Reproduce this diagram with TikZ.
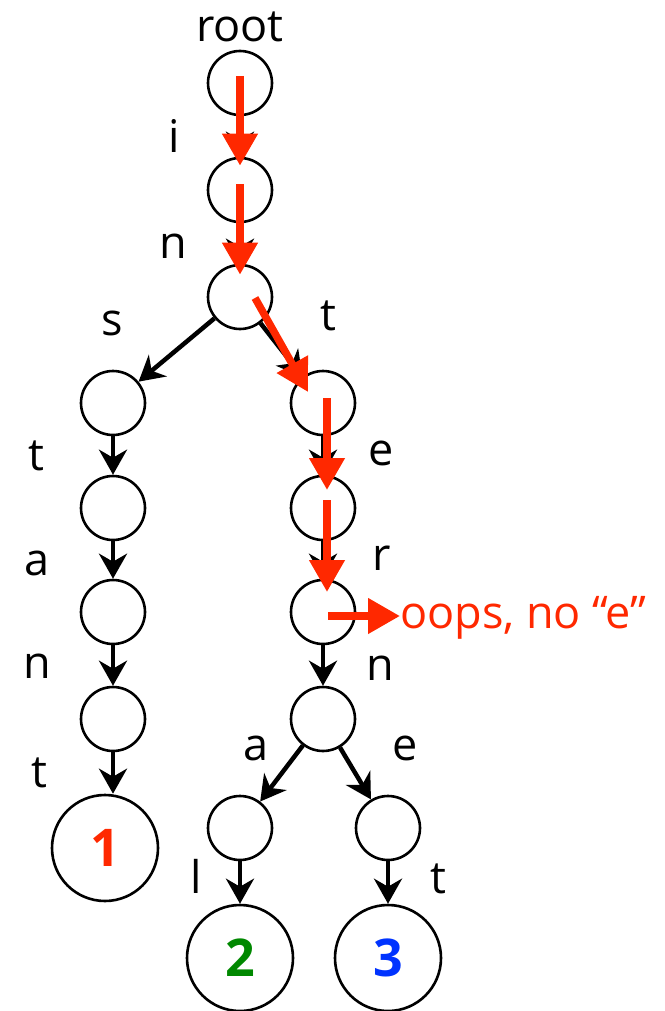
\documentclass[tikz,border=0pt]{standalone}
\usepackage{fontspec}
\setmainfont{Open Sans}
\usetikzlibrary{arrows.meta,calc}
\definecolor{oopsred}{RGB}{255,40,0}
\definecolor{leafgreen}{RGB}{0,136,0}
\definecolor{leafblue}{RGB}{0,51,255}
\begin{document}
\begin{tikzpicture}[x=1pt,y=-1pt,
  trienode/.style={circle,draw=black,line width=2.6pt,minimum size=64pt,inner sep=0pt},
  leafnode/.style={circle,draw=black,line width=2.6pt,minimum size=106pt,inner sep=0pt,
     font=\fontsize{52}{52}\selectfont\bfseries},
  edgelabel/.style={anchor=base,inner sep=0pt,font=\fontsize{45}{45}\selectfont},
  blk/.style={line width=4.5pt,-{Stealth[length=25pt,width=28pt,inset=8pt]}},
  redarrow/.style={draw=oopsred,line width=7.5pt,-{Triangle[length=32pt,width=34pt]}}]
\useasboundingbox (0,0) rectangle (664,1011);
% nodes
\node[trienode] (root) at (240,83) {};
\node[trienode] (ni) at (240,190) {};
\node[trienode] (nn) at (240,297) {};
\node[trienode] (ls) at (113,403) {};
\node[trienode] (lt) at (113,508) {};
\node[trienode] (la) at (113,612) {};
\node[trienode] (ln) at (113,719) {};
\node[leafnode,text=oopsred] (leaf1) at (105,848) {1};
\node[trienode] (rt) at (323,403) {};
\node[trienode] (re) at (323,508) {};
\node[trienode] (rr) at (323,612) {};
\node[trienode] (rn) at (323,719) {};
\node[trienode] (ra) at (240,828) {};
\node[trienode] (rE) at (388,828) {};
\node[leafnode,text=leafgreen] (leaf2) at (240,958) {2};
\node[leafnode,text=leafblue] (leaf3) at (388,958) {3};
% labels
\node[edgelabel] (lbroot) at (240,42) {root};
\node[edgelabel] (lbi) at (174,153) {i};
\node[edgelabel] (lbn) at (173,258) {n};
\node[edgelabel] (lbs) at (112,335) {s};
\node[edgelabel] (lbt1) at (328,330) {t};
\node[edgelabel] (lbt2) at (36,470) {t};
\node[edgelabel] (lbe1) at (381,465) {e};
\node[edgelabel] (lba1) at (37,575) {a};
\node[edgelabel] (lbr) at (382,570) {r};
\node[edgelabel] (lbn2) at (37,678) {n};
\node[edgelabel] (lbn3) at (380,680) {n};
\node[edgelabel] (lbt3) at (39,787) {t};
\node[edgelabel] (lba2) at (256,760) {a};
\node[edgelabel] (lbe2) at (405,760) {e};
\node[edgelabel] (lbl) at (196,893) {l};
\node[edgelabel] (lbt4) at (438,893) {t};
% black edges
\draw[blk] (root) -- (ni);
\draw[blk] (ni) -- (nn);
\draw[blk] (nn) -- (ls);
\draw[blk] (nn) -- (rt);
\draw[blk] (ls) -- (lt);
\draw[blk] (lt) -- (la);
\draw[blk] (la) -- (ln);
\draw[blk] (ln.south) -- (ln.south |- leaf1.north);
\draw[blk] (rt) -- (re);
\draw[blk] (re) -- (rr);
\draw[blk] (rr) -- (rn);
\draw[blk] (rn) -- (ra);
\draw[blk] (rn) -- (rE);
\draw[blk] (ra) -- (leaf2);
\draw[blk] (rE) -- (leaf3);
% red search path
\coordinate (r1s) at ($(root.center)+(0,-7)$);
\coordinate (r1e) at ($(ni.north)+(0,9)$);
\coordinate (r2s) at ($(ni.center)+(0,-6)$);
\coordinate (r2e) at ($(nn.north)+(0,11)$);
\coordinate (r3s) at ($(nn.center)+(15,1)$);
\coordinate (r3e) at ($(rt.center)+(-15,-11)$);
\coordinate (r4s) at ($(rt.center)+(4,-5)$);
\coordinate (r4e) at ($(re.center)+(4,-18)$);
\coordinate (r5s) at ($(re.center)+(4,-8)$);
\coordinate (r5e) at ($(rr.center)+(4,-20)$);
\coordinate (r6s) at ($(rr.center)+(5,4)$);
\node[anchor=base west,inner sep=0pt,text=oopsred,font=\fontsize{45}{45}\selectfont] (oops) at (400,628) {oops, no “e”};
\draw[redarrow] (r1s) -- (r1e);
\draw[redarrow] (r2s) -- (r2e);
\draw[redarrow] (r3s) -- (r3e);
\draw[redarrow] (r4s) -- (r4e);
\draw[redarrow] (r5s) -- (r5e);
\draw[redarrow] (r6s) -- (r6s -| oops.west);
\end{tikzpicture}
\end{document}
